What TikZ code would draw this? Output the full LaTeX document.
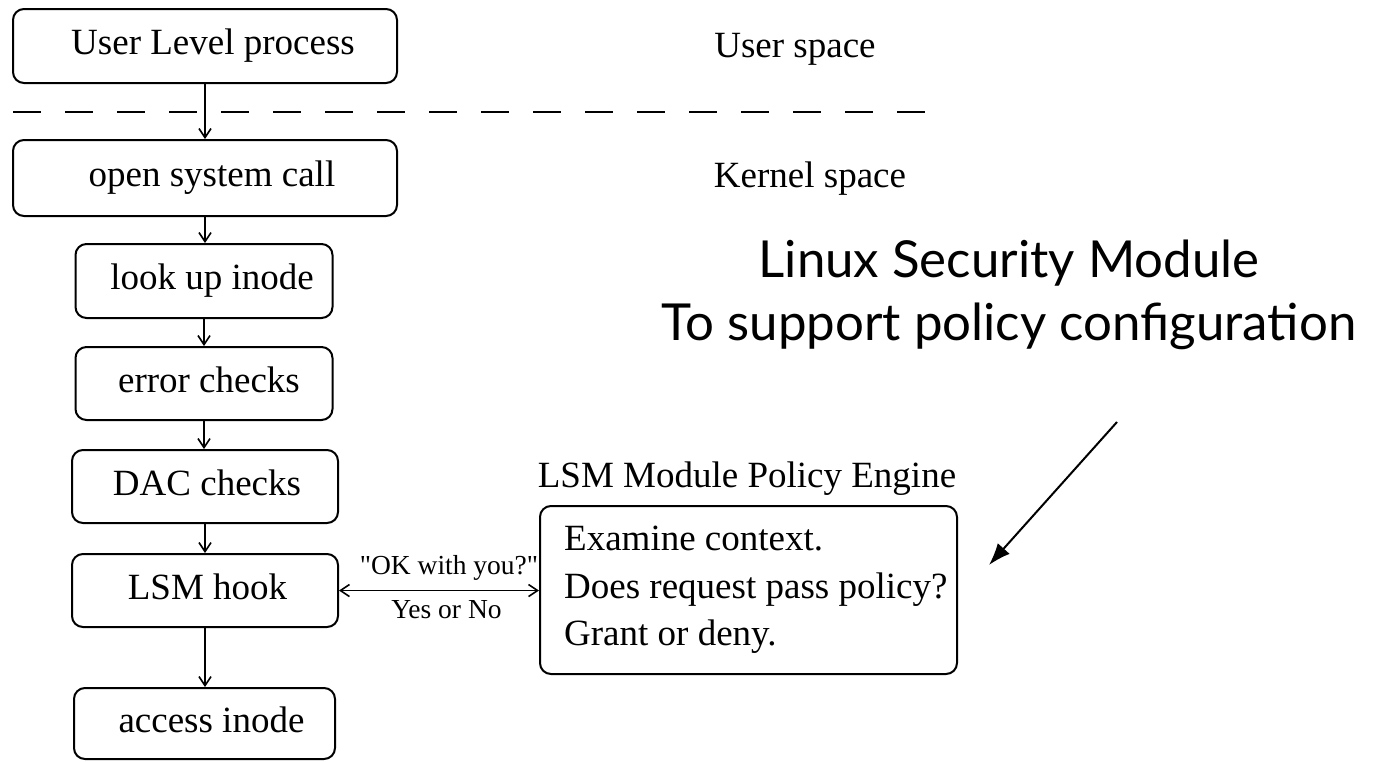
\documentclass[tikz,border=0pt]{standalone}
\usepackage{fontspec}
\setmainfont{Liberation Serif}
\newfontfamily\rawserif{Liberation Serif}
\newfontfamily\handfont{Lato}
\usetikzlibrary{arrows.meta}
\begin{document}
\begin{tikzpicture}[x=1pt,y=-1pt,
  procbox/.style={draw, line width=2pt, rounded corners=11pt, inner sep=0pt,
    text height=25pt, text depth=8pt, font=\fontsize{37}{44}\selectfont},
  flow/.style={line width=1.6pt, -{Straight Barb[length=9pt,width=12pt,line width=1.6pt]}},
  both/.style={line width=1.6pt, {Straight Barb[length=9pt,width=12pt,line width=1.6pt]}-{Straight Barb[length=9pt,width=12pt,line width=1.6pt]}},
  side/.style={font=\fontsize{37}{44}\selectfont, anchor=base, inner sep=0pt},
  small/.style={font=\rawserif\fontsize{27.5}{32}\selectfont, inner sep=0pt},
  hand/.style={font=\handfont\fontsize{51}{63}\selectfont, anchor=base, inner sep=0pt}
]
\useasboundingbox[fill=white] (0,0) rectangle (1381,761);

% process boxes
\node[procbox, minimum width=384pt, minimum height=74pt] (b1) at (205,46) {\hspace*{16pt}User Level process};
\node[procbox, minimum width=384pt, minimum height=76pt] (b2) at (205,178) {\hspace*{14pt}open system call};
\node[procbox, minimum width=257pt, minimum height=74pt] (b3) at (204,281) {\hspace*{16pt}look up inode};
\node[procbox, minimum width=257pt, minimum height=73pt] (b4) at (204,383.5) {\hspace*{10pt}error checks};
\node[procbox, minimum width=266pt, minimum height=73pt] (b5) at (205,486.5) {\hspace*{4pt}DAC checks};
\node[procbox, minimum width=266pt, minimum height=73pt] (b6) at (205,590.5) {\hspace*{5pt}LSM hook};
\node[procbox, minimum width=261pt, minimum height=71pt] (b7) at (204.5,723.5) {\hspace*{14pt}access inode};

% user/kernel boundary
\draw[line width=2pt, dash pattern=on 28pt off 24pt] (13,112) -- (929,112);

% flow arrows
\draw[flow] (b1.south) -- (b1.south |- b2.north);
\draw[flow] (b2.south) -- (b2.south |- b3.north);
\draw[flow] (b3.south) -- (b3.south |- b4.north);
\draw[flow] (b4.south) -- (b4.south |- b5.north);
\draw[flow] (b5.south) -- (b5.south |- b6.north);
\draw[flow] (b6.south) -- (b6.south |- b7.north);

% side labels
\node[side] (us) at (795,57) {User space};
\node[side] (ks) at (810,187) {Kernel space};

% policy engine
\node[side] (pelabel) at (747,487) {LSM Module Policy Engine};
\node[draw, line width=2pt, rounded corners=11pt, minimum width=417pt, minimum height=168pt, inner sep=0pt] (pol) at (748.5,590) {};
\node[anchor=west, inner sep=0pt, align=left, font=\fontsize{37}{47.5}\selectfont] (poltext) at ([xshift=25pt]pol.west)
  {Examine context.\\Does request pass policy?\\Grant or deny.};

% request / answer
\draw[both] (b6.east) -- (b6.east -| pol.west)
  node[small, pos=0.5, above=9pt, xshift=10pt] (ok) {"OK with you?"}
  node[small, pos=0.5, below=9pt, xshift=7.5pt] (yn) {Yes or No};

% handwritten note
\node[hand] (note1) at (1009,277) {Linux Security Module};
\node[hand] (note2) at (1009,340) {To support policy configuration};
\coordinate (ptrA) at (1117,422);
\coordinate (ptrB) at (989,565);
\draw[line width=2pt, -{Latex[length=22pt,width=16pt]}] (ptrA) -- (ptrB);
\end{tikzpicture}
\end{document}
